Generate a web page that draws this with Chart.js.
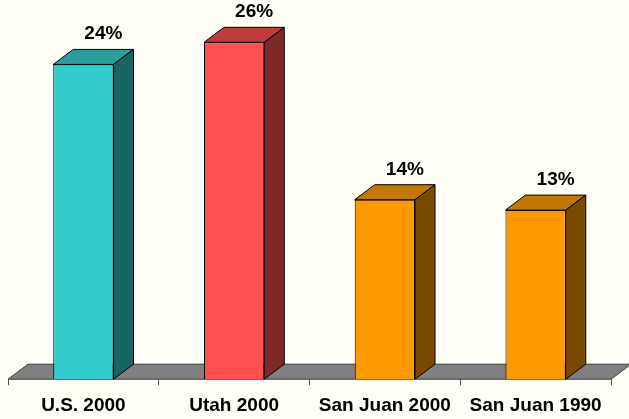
<!DOCTYPE html>
<html>
<head>
<meta charset="utf-8">
<script src="https://cdn.jsdelivr.net/npm/chart.js@4"></script>
<style>
  body { margin: 0; background: #fffff7; }
  #wrap { width: 629px; height: 419px; }
</style>
</head>
<body>
<div id="wrap"><canvas id="barChart"></canvas></div>
<script>
const categories = ['U.S. 2000', 'Utah 2000', 'San Juan 2000', 'San Juan 1990'];
// bar heights; the labels show them rounded
const percents = [24.2, 25.9, 13.8, 13.0];

const frontColors = ['#33cccc', '#ff5050', '#ff9900', '#ff9900'];
const topColors = ['#2a9d9d', '#c03c3c', '#c47800', '#c47800'];
const sideColors = ['#1b6464', '#7f2828', '#7a4a00', '#7a4a00'];

const DX = 20, DY = -15;
const FONT = '"Liberation Sans", Arial, sans-serif';

// floor under the bars + 3d faces + value labels
const bars3d = {
  id: 'bars3d',
  beforeDatasetsDraw(chart) {
    const { ctx, chartArea } = chart;
    const y = chartArea.bottom;
    ctx.save();
    ctx.beginPath();
    ctx.moveTo(chartArea.left, y);
    ctx.lineTo(chartArea.right, y);
    ctx.lineTo(chartArea.right + DX, y + DY);
    ctx.lineTo(chartArea.left + DX, y + DY);
    ctx.closePath();
    ctx.fillStyle = '#808080';
    ctx.fill();
    ctx.strokeStyle = '#3a3a3a';
    ctx.lineWidth = 1;
    ctx.stroke();
    ctx.restore();
  },
  afterDatasetsDraw(chart) {
    const { ctx } = chart;
    const meta = chart.getDatasetMeta(0);
    ctx.save();
    ctx.lineWidth = 1;
    ctx.strokeStyle = '#000';
    meta.data.forEach((bar, i) => {
      const x0 = bar.x - bar.width / 2;
      const x1 = bar.x + bar.width / 2;
      const top = bar.y;
      const base = bar.base;

      ctx.beginPath();
      ctx.moveTo(x0, top);
      ctx.lineTo(x1, top);
      ctx.lineTo(x1 + DX, top + DY);
      ctx.lineTo(x0 + DX, top + DY);
      ctx.closePath();
      ctx.fillStyle = topColors[i];
      ctx.fill();
      ctx.stroke();

      ctx.beginPath();
      ctx.moveTo(x1, top);
      ctx.lineTo(x1 + DX, top + DY);
      ctx.lineTo(x1 + DX, base + DY);
      ctx.lineTo(x1, base);
      ctx.closePath();
      ctx.fillStyle = sideColors[i];
      ctx.fill();
      ctx.stroke();

      ctx.fillStyle = '#000';
      ctx.font = 'bold 19px ' + FONT;
      ctx.textAlign = 'center';
      ctx.textBaseline = 'alphabetic';
      ctx.fillText(Math.round(percents[i]) + '%', bar.x + 20, top + DY - 10);
    });
    ctx.restore();
  }
};

const ctx = document.getElementById('barChart').getContext('2d');
const barChart = new Chart(ctx, {
  type: 'bar',
  data: {
    labels: categories,
    datasets: [{
      data: percents,
      backgroundColor: frontColors,
      borderColor: '#000',
      borderWidth: 1,
      barPercentage: 0.4,
      categoryPercentage: 1
    }]
  },
  options: {
    responsive: true,
    maintainAspectRatio: false,
    animation: false,
    layout: {
      padding: { top: 15, left: 8, right: 18, bottom: -7 }
    },
    plugins: {
      legend: { display: false },
      tooltip: { enabled: false }
    },
    scales: {
      y: {
        display: false,
        min: 0,
        max: 28
      },
      x: {
        grid: {
          offset: true,
          drawOnChartArea: false,
          tickLength: 6,
          color: '#555'
        },
        border: { display: false },
        ticks: {
          color: '#000',
          padding: 9,
          font: { family: FONT, size: 19, weight: 'bold' }
        }
      }
    }
  },
  plugins: [bars3d]
});
</script>
</body>
</html>
